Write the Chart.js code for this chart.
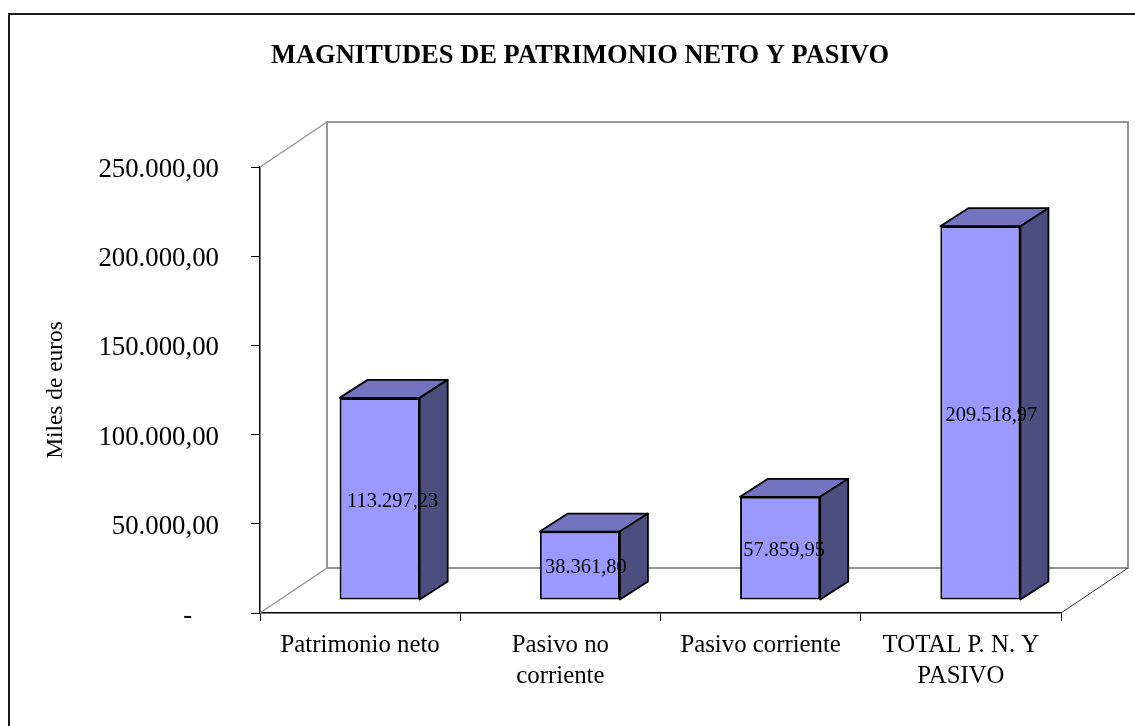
<!DOCTYPE html>
<html>
<head>
<meta charset="utf-8">
<title>Magnitudes de patrimonio neto y pasivo</title>
<script src="https://cdn.jsdelivr.net/npm/chart.js@4/dist/chart.umd.min.js"></script>
<style>
html, body { margin: 0; padding: 0; background: #fff; }
#wrap { width: 1135px; height: 726px; }
</style>
</head>
<body>
<div id="wrap"><canvas id="chart" width="1135" height="726"></canvas></div>
<script>
var categories = [['Patrimonio neto'], ['Pasivo no', 'corriente'], ['Pasivo corriente'], ['TOTAL P. N. Y', 'PASIVO']];
var values = [113297.23, 38361.80, 57859.95, 209518.97];
var valueLabels = ['113.297,23', '38.361,80', '57.859,95', '209.518,97'];
var tickLabels = ['-    ', '50.000,00', '100.000,00', '150.000,00', '200.000,00', '250.000,00'];

var serif = '"Liberation Serif", "Times New Roman", serif';

// depth of the whole box, and how far the bars sit in from the front edge
var wallDx = 67, wallDy = -45;
var barDx = 19.5, barDy = -13;
var faceDx = 28, faceDy = -18;
// the value labels do not sit at the same spot on every bar
var labelNudge = [13, 6, 4, 11];

function line(ctx, x1, y1, x2, y2) {
	ctx.beginPath();
	ctx.moveTo(x1, y1);
	ctx.lineTo(x2, y2);
	ctx.stroke();
}

var box3d = {
	id: 'box3d',
	beforeDraw: function(chart) {
		var ctx = chart.ctx;
		ctx.save();
		ctx.strokeStyle = '#1a1a1a';
		ctx.lineWidth = 2;
		line(ctx, 8, 14, 1135, 14);
		line(ctx, 9, 14, 9, 726);
		ctx.restore();
	},
	beforeDatasetsDraw: function(chart) {
		var ctx = chart.ctx;
		var a = chart.chartArea;
		ctx.save();
		ctx.strokeStyle = '#969696';
		ctx.lineWidth = 2;
		ctx.strokeRect(a.left + wallDx, a.top + wallDy, a.right - a.left, a.bottom - a.top);
		ctx.lineWidth = 1.5;
		line(ctx, a.left, a.top, a.left + wallDx, a.top + wallDy);
		line(ctx, a.left, a.bottom, a.left + wallDx, a.bottom + wallDy);
		ctx.lineWidth = 1;
		ctx.strokeStyle = '#333';
		line(ctx, a.right, a.bottom, a.right + wallDx, a.bottom + wallDy);

		// top and side faces of each bar
		ctx.lineWidth = 1.8;
		ctx.strokeStyle = '#000';
		ctx.lineJoin = 'round';
		chart.getDatasetMeta(0).data.forEach(function(bar) {
			var l = bar.x - bar.width / 2 + barDx;
			var r = bar.x + bar.width / 2 + barDx;
			var t = bar.y + barDy;
			var b = bar.base + barDy;
			ctx.fillStyle = '#7373BF';
			ctx.beginPath();
			ctx.moveTo(l, t);
			ctx.lineTo(l + faceDx, t + faceDy);
			ctx.lineTo(r + faceDx, t + faceDy);
			ctx.lineTo(r, t);
			ctx.closePath();
			ctx.fill();
			ctx.stroke();
			ctx.fillStyle = '#4D4D80';
			ctx.beginPath();
			ctx.moveTo(r, t);
			ctx.lineTo(r + faceDx, t + faceDy);
			ctx.lineTo(r + faceDx, b + faceDy);
			ctx.lineTo(r, b);
			ctx.closePath();
			ctx.fill();
			ctx.stroke();
		});
		ctx.restore();
	},
	beforeDatasetDraw: function(chart) {
		chart.ctx.save();
		chart.ctx.translate(barDx, barDy);
	},
	afterDatasetDraw: function(chart) {
		chart.ctx.restore();
	},
	afterDatasetsDraw: function(chart) {
		var ctx = chart.ctx;
		ctx.save();
		ctx.font = '20.4px ' + serif;
		ctx.fillStyle = '#000';
		ctx.textAlign = 'center';
		ctx.textBaseline = 'middle';
		chart.getDatasetMeta(0).data.forEach(function(bar, i) {
			ctx.fillText(valueLabels[i], bar.x + barDx + labelNudge[i], (bar.y + bar.base) / 2 + barDy + 2.5);
		});
		ctx.restore();
	}
};

new Chart(document.getElementById('chart'), {
	type: 'bar',
	data: {
		labels: categories,
		datasets: [{
			data: values,
			backgroundColor: '#9999FF',
			borderColor: '#000',
			borderWidth: 2,
			borderSkipped: false,
			barPercentage: 0.4,
			categoryPercentage: 1
		}]
	},
	options: {
		responsive: false,
		animation: false,
		events: [],
		layout: { padding: { left: 99, right: 74, top: 0, bottom: 0 } },
		plugins: {
			legend: { display: false },
			tooltip: { enabled: false },
			title: {
				display: true,
				text: 'MAGNITUDES DE PATRIMONIO NETO Y PASIVO',
				color: '#000',
				font: { family: serif, size: 26.5, weight: 'bold', lineHeight: 1.2 },
				padding: { top: 40, bottom: 95.2 }
			}
		},
		scales: {
			x: {
				afterFit: function(scale) { scale.height = 113; },
				grid: { drawOnChartArea: false, color: '#000', tickLength: 8 },
				border: { color: '#000', width: 1.5 },
				ticks: {
					color: '#000',
					padding: 9,
					maxRotation: 0,
					autoSkip: false,
					font: { family: serif, size: 24.8, lineHeight: 1.25 }
				}
			},
			y: {
				min: 0,
				max: 250000,
				afterFit: function(scale) { scale.width = 161; },
				grid: { drawOnChartArea: false, color: '#000', tickLength: 9 },
				border: { color: '#000', width: 1.5 },
				afterBuildTicks: function(scale) {
					scale.ticks = tickLabels.map(function(t, i) { return { value: i * 50000 }; });
				},
				ticks: {
					color: '#000',
					padding: 32,
					labelOffset: 3,
					font: { family: serif, size: 26.8 },
					callback: function(value, index) { return tickLabels[index]; }
				},
				title: {
					display: true,
					text: 'Miles de euros',
					color: '#000',
					font: { family: serif, size: 23.4 },
					padding: { top: -57, bottom: 0 }
				}
			}
		}
	},
	plugins: [box3d]
});
</script>
</body>
</html>
